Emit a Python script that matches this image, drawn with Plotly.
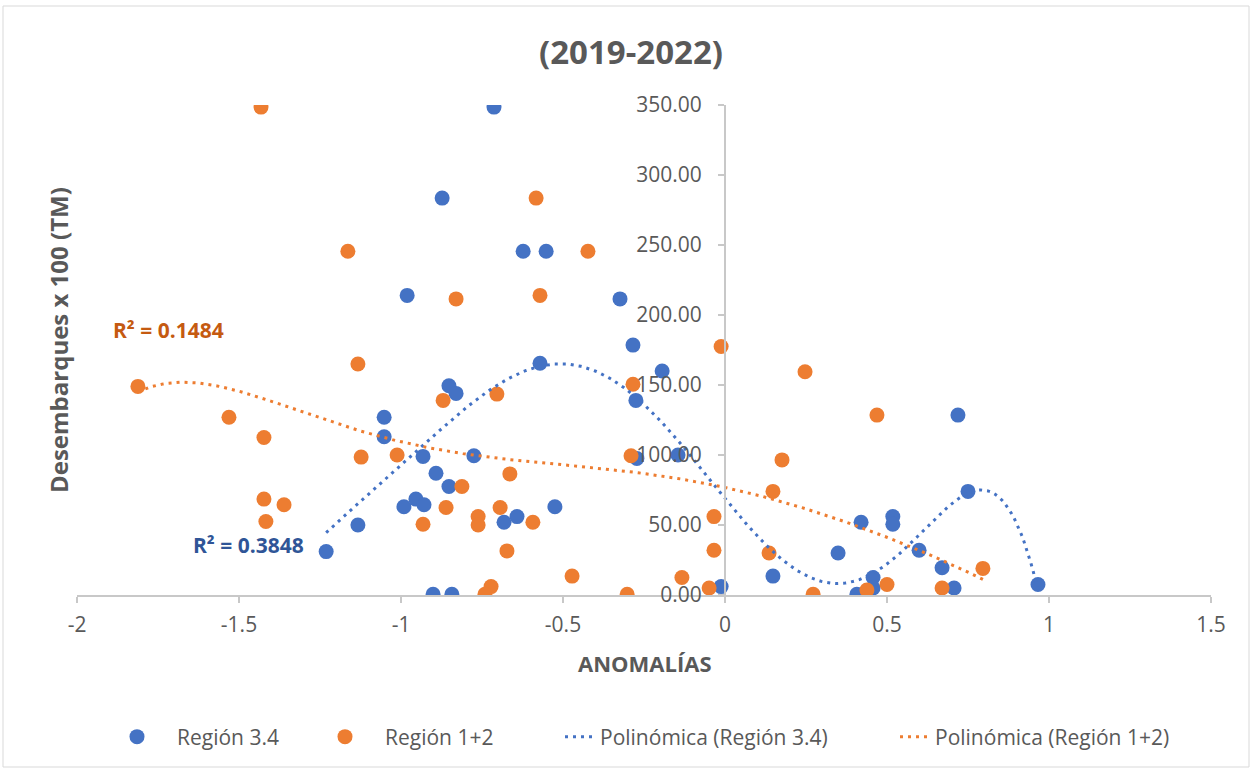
import numpy as np
import plotly.graph_objects as go

# ---------------- data ----------------
title_text = "(2019-2022)"
x_title = "ANOMALÍAS"
y_title = "Desembarques x 100 (TM)"

r34_x = [-0.713, -0.873, -0.623, -0.552, -0.981, -0.324, -0.284, -0.194, -0.571, -0.852,
         -0.830, -0.275, -1.052, -1.052, -0.775, -0.932, -0.272, -0.145, -0.892, -0.852,
         -0.954, -0.991, -0.929, -0.525, -0.642, -0.682, -1.133, -1.231, -0.901, -0.843,
         -0.012, 0.719, 0.750, 0.420, 0.518, 0.518, 0.349, 0.599, 0.670, 0.148,
         0.457, 0.457, 0.407, 0.438, 0.707, 0.966]
r34_y = [348.5, 283.5, 245.5, 245.5, 214.0, 211.5, 178.5, 160.0, 165.5, 149.5,
         144.0, 139.0, 127.0, 113.0, 99.5, 99.0, 97.5, 100.0, 87.0, 77.5,
         68.5, 63.0, 64.5, 63.0, 56.0, 52.0, 50.0, 31.0, 0.5, 0.5,
         6.0, 128.5, 74.0, 52.0, 56.0, 50.5, 30.0, 32.0, 19.5, 13.5,
         12.5, 5.0, 0.5, 0.5, 5.0, 7.5]

r12_x = [-1.432, -0.583, -1.164, -0.423, -0.830, -0.571, -0.012, -1.133, -1.812, -0.284,
         0.247, 0.469, -1.531, -0.870, -0.704, -1.423, -1.123, -1.012, -0.290, 0.176,
         -0.664, -0.812, -1.423, -1.361, -1.417, -0.932, -0.861, -0.694, -0.762, -0.762,
         -0.593, -0.673, -0.472, -0.722, -0.741, -0.302, -0.133, -0.034, -0.034, -0.049,
         0.148, 0.136, 0.272, 0.438, 0.500, 0.670, 0.796]
r12_y = [348.5, 283.5, 245.5, 245.5, 211.5, 214.0, 177.5, 165.0, 149.0, 150.5,
         159.5, 128.5, 127.0, 139.0, 143.5, 112.5, 98.5, 100.0, 99.5, 96.5,
         86.5, 77.5, 68.5, 64.5, 52.5, 50.5, 62.5, 62.5, 56.0, 50.0,
         52.0, 31.5, 13.5, 6.0, 0.5, 0.5, 12.5, 56.0, 32.0, 5.0,
         74.0, 30.0, 0.5, 3.5, 7.5, 5.0, 19.0]

series_names = ["Región 3.4", "Región 1+2", "Polinómica (Región 3.4)", "Polinómica (Región 1+2)"]
r2_labels = ["R² = 0.3848", "R² = 0.1484"]
poly_order = 6

x_tickvals = [-2, -1.5, -1, -0.5, 0, 0.5, 1, 1.5]
x_ticktext = ["-2", "-1.5", "-1", "-0.5", "0", "0.5", "1", "1.5"]
y_tickvals = [0, 50, 100, 150, 200, 250, 300, 350]

# ---------------- style ----------------
BLUE = "#4472C4"
ORANGE = "#ED7D31"
TXT = "#595959"
AX = "#C8C8C8"
FONT = "Open Sans"


def trend(xs, ys, order):
    xs = np.asarray(xs)
    ys = np.asarray(ys)
    c = np.polyfit(xs, ys, order)
    xx = np.linspace(xs.min(), xs.max(), 300)
    return xx, np.polyval(c, xx)


bx, by = trend(r34_x, r34_y, poly_order)
ox, oy = trend(r12_x, r12_y, poly_order)

fig = go.Figure()
fig.add_trace(go.Scatter(x=r34_x, y=r34_y, mode="markers", name=series_names[0], legend="legend",
                         marker=dict(color=BLUE, size=15, line=dict(width=0))))
fig.add_trace(go.Scatter(x=r12_x, y=r12_y, mode="markers", name=series_names[1], legend="legend2",
                         marker=dict(color=ORANGE, size=15, line=dict(width=0))))
fig.add_trace(go.Scatter(x=bx, y=by, mode="lines", name=series_names[2], legend="legend3",
                         line=dict(color=BLUE, width=3, dash="3px,5px")))
fig.add_trace(go.Scatter(x=ox, y=oy, mode="lines", name=series_names[3], legend="legend4",
                         line=dict(color=ORANGE, width=3, dash="3px,5px")))

L, R, T, B = 77, 42, 105, 175
W, H = 1253, 770
pw, ph = W - L - R, H - T - B


def px(xp):
    return (xp - L) / pw


def py(yp):
    return (H - B - yp) / ph


yaxis_pos = (0 - x_tickvals[0]) / (x_tickvals[-1] - x_tickvals[0])


def leg(text_start, itemwidth):
    return dict(orientation="h", x=px(text_start - itemwidth - 10), xanchor="left",
                y=py(737), yanchor="middle", itemwidth=itemwidth,
                font=dict(family=FONT, size=21, color=TXT), bgcolor="rgba(0,0,0,0)")


fig.update_layout(
    width=W, height=H,
    margin=dict(l=L, r=R, t=T, b=B, autoexpand=False),
    paper_bgcolor="white", plot_bgcolor="white",
    font=dict(family=FONT, color=TXT, size=21),
    showlegend=True,
    legend=leg(177, 70),
    legend2=leg(385, 70),
    legend3=leg(600, 30),
    legend4=leg(935, 30),
    xaxis=dict(range=[-2, 1.5], tickvals=x_tickvals, ticktext=x_ticktext,
               showgrid=False, zeroline=False, showline=True, linecolor=AX, linewidth=2,
               ticks="outside", ticklen=6, tickwidth=2, tickcolor=AX,
               tickfont=dict(family=FONT, size=21, color=TXT),
               anchor="y", ticklabelstandoff=4),
    xaxis2=dict(range=[-2, 1.5], tickvals=x_tickvals, overlaying="x", anchor="y",
                side="bottom", showgrid=False, zeroline=False, showline=False,
                ticks="inside", ticklen=6, tickwidth=2, tickcolor=AX, showticklabels=False),
    yaxis=dict(range=[0, 350], tickvals=y_tickvals, tickformat=".2f",
               showgrid=False, zeroline=False, showline=True, linecolor=AX, linewidth=2,
               ticks="outside", ticklen=6, tickwidth=2, tickcolor=AX,
               tickfont=dict(family=FONT, size=21, color=TXT),
               anchor="free", position=yaxis_pos, ticklabelstandoff=12),
    yaxis2=dict(range=[0, 350], tickvals=y_tickvals, overlaying="y", anchor="free",
                position=yaxis_pos, showgrid=False, zeroline=False, showline=False,
                ticks="inside", ticklen=6, tickwidth=2, tickcolor=AX, showticklabels=False),
)


def ann(text, xp, yp, size, color, angle=0):
    fig.add_annotation(text="<b>%s</b>" % text, xref="paper", yref="paper",
                       x=px(xp), y=py(yp), xanchor="center", yanchor="middle",
                       showarrow=False, textangle=angle,
                       font=dict(family=FONT, size=size, color=color))


ann(title_text, 631, 51, 33, TXT)
ann(y_title, 58, 340, 24, TXT, -90)
ann(x_title, 645, 663, 22, TXT)
ann(r2_labels[1], 168, 330, 21, "#C55A11")
ann(r2_labels[0], 248, 545, 21, "#2F5597")

fig.add_shape(type="rect", xref="paper", yref="paper",
              x0=px(3), x1=px(1249), y0=py(767), y1=py(6),
              line=dict(color="#D9D9D9", width=1), fillcolor="rgba(0,0,0,0)", layer="below")

fig.write_html("out.html", config={"displayModeBar": False},
               post_script="document.body.style.margin='0';")
